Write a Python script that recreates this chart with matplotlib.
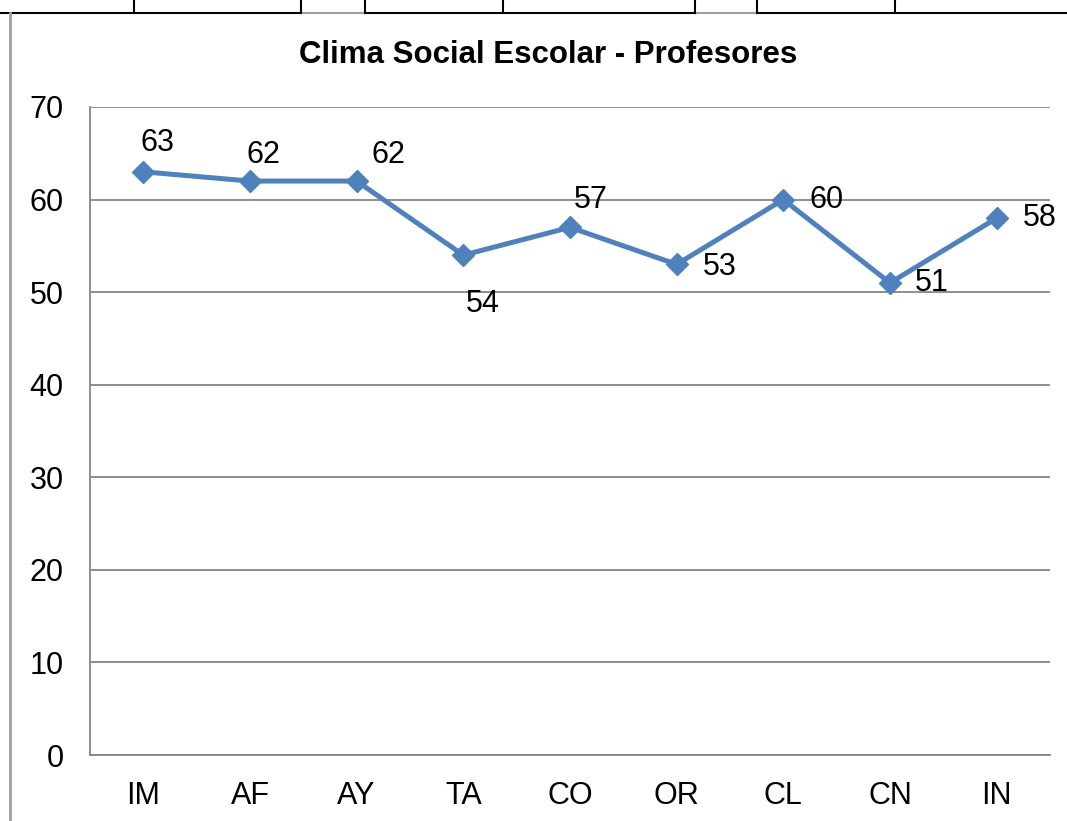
import matplotlib.pyplot as plt
from matplotlib.lines import Line2D

plt.rcParams['font.family'] = ['Liberation Sans', 'DejaVu Sans']

categories = ['IM', 'AF', 'AY', 'TA', 'CO', 'OR', 'CL', 'CN', 'IN']
values = [63, 62, 62, 54, 57, 53, 60, 51, 58]
yticks = [0, 10, 20, 30, 40, 50, 60, 70]

# label offsets in points (x, y) from each marker
offsets = [(10, 21), (10, 19), (23, 19), (14, -35), (15, 20), (31, -2), (31, 0), (30, 0), (31, 0)]

W, H = 1067, 821
fig = plt.figure(figsize=(W / 100, H / 100), dpi=100)
ax = fig.add_axes([90 / W, 66 / H, 960 / W, 648 / H])

x = list(range(len(categories)))
ax.plot(x, values, color='#4F81BD', lw=3.6, marker='D', ms=11, zorder=3)
for xi, v, (dx, dy) in zip(x, values, offsets):
    ax.annotate(str(v), (xi, v), xytext=(dx, dy), textcoords='offset points',
                ha='center', va='center', fontsize=22)

ax.set_xlim(-0.5, len(categories) - 0.5)
ax.set_ylim(0, 70)
ax.set_xticks(x)
ax.set_xticklabels(categories)
ax.set_yticks(yticks)
ax.tick_params(labelsize=22, length=0, pad=19)
ax.tick_params(axis='y', pad=19)
ax.grid(axis='y', color='#868686', lw=1.3)
ax.set_axisbelow(True)
for s in ['top', 'right']:
    ax.spines[s].set_visible(False)
for s in ['left', 'bottom']:
    ax.spines[s].set_color('#868686')
    ax.spines[s].set_linewidth(1.3)

fig.text(548 / W, 1 - 55 / H, 'Clima Social Escolar - Profesores', ha='center', va='center',
         fontsize=22.5, fontweight='bold')

# table borders above the chart
def fl(x0, y0, x1, y1, c='black', lw=1.5):
    fig.add_artist(Line2D([x0 / W, x1 / W], [1 - y0 / H, 1 - y1 / H], color=c, lw=lw))

fl(0, 13, 301, 13)
fl(301, 13, 365, 13, c='#a0a0a0')
fl(365, 13, 695, 13)
fl(695, 13, 757, 13, c='#a0a0a0')
fl(757, 13, W, 13)
for xv in [134, 301, 365, 503, 695, 757, 895]:
    fl(xv, 0, xv, 13)
fl(10, 13, 10, H, c='#a0a0a0', lw=2)

fig.savefig('out.png', dpi=100)
